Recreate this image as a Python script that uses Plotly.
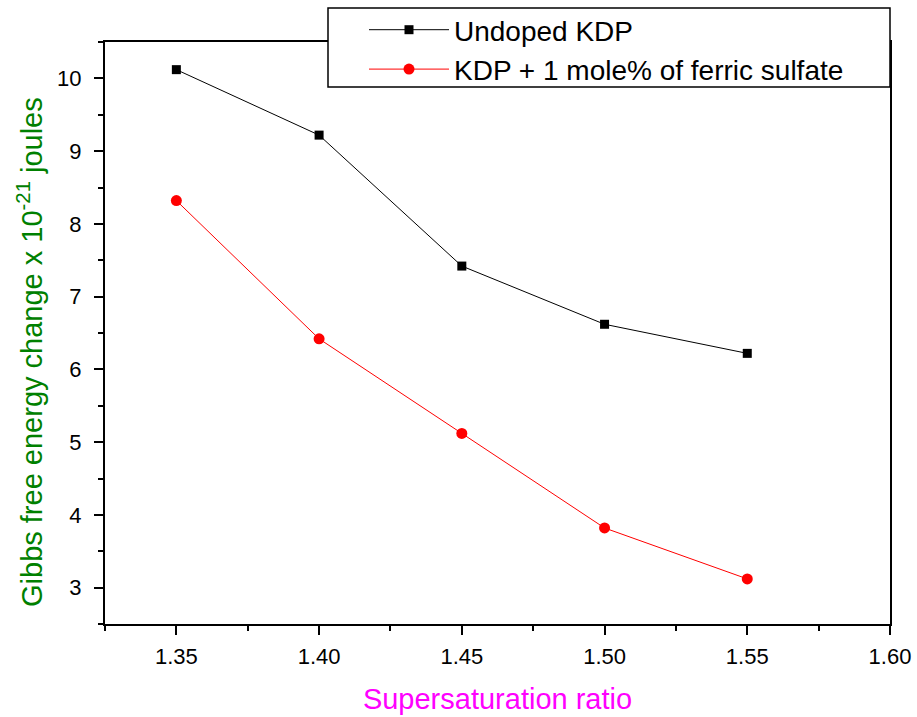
import plotly.graph_objects as go

x_vals = [1.35, 1.40, 1.45, 1.50, 1.55]
undoped = [10.12, 9.22, 7.42, 6.62, 6.22]
doped = [8.32, 6.42, 5.12, 3.82, 3.12]
names = ["Undoped KDP", "KDP + 1 mole% of ferric sulfate"]
x_ticks = [1.35, 1.40, 1.45, 1.50, 1.55, 1.60]
x_tick_text = ["1.35", "1.40", "1.45", "1.50", "1.55", "1.60"]
y_ticks = [3, 4, 5, 6, 7, 8, 9, 10]
x_title = "Supersaturation ratio"
y_title = "Gibbs free energy change x 10<sup>-21</sup> joules"

W, H = 917, 717
L, R, T, B = 105, 27, 42, 93
pw, ph = W - L - R, H - T - B

def px(xp):
    return (xp - L) / pw

def py(yp):
    return 1 - (yp - T) / ph

FONT = "Arial, Liberation Sans, sans-serif"

fig = go.Figure()
fig.add_trace(go.Scatter(x=x_vals, y=undoped, mode="lines+markers", name=names[0],
                         line=dict(color="black", width=1),
                         marker=dict(symbol="square", size=9, color="black")))
fig.add_trace(go.Scatter(x=x_vals, y=doped, mode="lines+markers", name=names[1],
                         line=dict(color="red", width=1),
                         marker=dict(symbol="circle", size=11, color="red")))

axis_common = dict(showline=True, linecolor="black", linewidth=2, mirror=True,
                   ticks="outside", ticklen=9, tickwidth=2, tickcolor="black",
                   showgrid=False, zeroline=False, automargin=False,
                   tickfont=dict(family=FONT, size=22, color="black"))

fig.update_xaxes(range=[1.325, 1.60], tickvals=x_ticks, ticktext=x_tick_text,
                 ticklabelstandoff=3,
                 minor=dict(ticks="outside", ticklen=5, tickwidth=2, tickcolor="black", dtick=0.025, tick0=1.325),
                 title=dict(text=x_title, standoff=20,
                            font=dict(family=FONT, size=29, color="#ff00ff")),
                 **axis_common)
fig.update_yaxes(range=[2.5, 10.5], tickvals=y_ticks, ticklabelstandoff=8,
                 minor=dict(ticks="outside", ticklen=5, tickwidth=2, tickcolor="black", dtick=0.5, tick0=2.5),
                 **axis_common)

fig.add_annotation(text=y_title, xref="paper", yref="paper",
                   x=px(30), y=py(352), xanchor="center", yanchor="middle",
                   textangle=-90, showarrow=False,
                   font=dict(family=FONT, size=29, color="#008000"))

# legend frame
fig.add_shape(type="rect", xref="paper", yref="paper",
              x0=px(328), x1=px(890), y0=py(87), y1=py(8),
              line=dict(color="black", width=1.5), fillcolor="white", layer="above")

fig.update_layout(
    width=W, height=H,
    margin=dict(l=L, r=R, t=T, b=B, autoexpand=False),
    paper_bgcolor="white", plot_bgcolor="white",
    font=dict(family=FONT, color="black"),
    legend=dict(x=px(364), y=py(5), xanchor="left", yanchor="top",
                bgcolor="rgba(0,0,0,0)", borderwidth=0,
                font=dict(family=FONT, size=28, color="black"),
                tracegroupgap=0, itemwidth=80),
    showlegend=True,
)

fig.write_html("out.html")
